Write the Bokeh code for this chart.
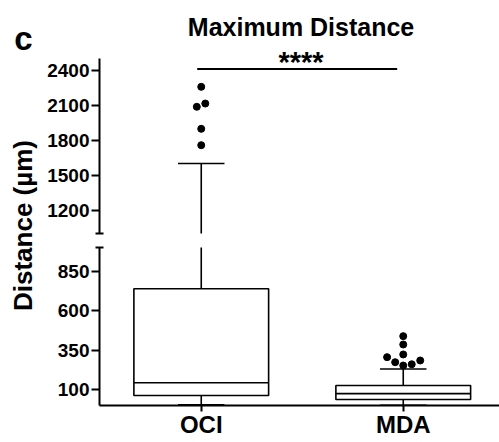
import math
from bokeh.plotting import figure
from bokeh.layouts import row, column
from bokeh.models import Range1d, FixedTicker, Label
from bokeh.embed import file_html
from bokeh.resources import INLINE

# ---------------- data ----------------
categories = ["OCI", "MDA"]
q1 = [63, 38]
median = [144, 75]
q3 = [739, 127]
whisker_low = [5, 2]
whisker_high = [1600, 231]
oci_outliers = [2257, 2114, 2086, 1897, 1757]
oci_outlier_dx = [0.0, 0.02, -0.022, 0.0, 0.0]
mda_outliers = [439, 386, 323, 306, 274, 253, 261, 285]
mda_outlier_dx = [0.0, 0.0, 0.0, -0.08, -0.04, 0.0, 0.042, 0.084]
lower_ticks = [100, 350, 600, 850]
upper_ticks = [1200, 1500, 1800, 2100, 2400]
lower_span = (0, 1000)
upper_span = (1000, 2500)
sig_text = "****"
sig_y = 2410

# ---------------- style ----------------
FONT = "Liberation Sans"
BOX_W = 0.667
CAP_W = 0.23
LW = 1.6
pos = [i + 1 for i in range(len(categories))]
X_START, X_END = 0.4963, 2.4765
UPPER_VIEW_TOP = 2997  # extra headroom in the upper panel for the title


def style_yaxis(p, ticks, span, minor):
    ax = p.yaxis[0]
    ax.ticker = FixedTicker(ticks=ticks, minor_ticks=minor)
    ax.bounds = span
    ax.axis_line_width = 2
    ax.axis_line_color = "black"
    ax.major_tick_line_width = 2
    ax.major_tick_out = 8
    ax.major_tick_in = 0
    ax.minor_tick_line_width = 2
    ax.minor_tick_in = 4
    ax.minor_tick_out = 4
    ax.major_label_text_font = FONT
    ax.major_label_text_font_style = "bold"
    ax.major_label_text_font_size = "19px"
    ax.major_label_text_color = "black"
    ax.major_label_standoff = 2


def draw_boxes(p):
    left = [x - BOX_W / 2 for x in pos]
    right = [x + BOX_W / 2 for x in pos]
    cl = [x - CAP_W / 2 for x in pos]
    cr = [x + CAP_W / 2 for x in pos]
    p.segment(x0=pos, x1=pos, y0=q3, y1=whisker_high, line_color="black", line_width=LW)
    p.segment(x0=pos, x1=pos, y0=q1, y1=whisker_low, line_color="black", line_width=LW)
    p.segment(x0=cl, x1=cr, y0=whisker_high, y1=whisker_high, line_color="black", line_width=LW)
    p.segment(x0=cl, x1=cr, y0=whisker_low, y1=whisker_low, line_color="black", line_width=LW)
    p.quad(left=left, right=right, bottom=q1, top=q3, fill_color="white",
           line_color="black", line_width=LW)
    p.segment(x0=left, x1=right, y0=median, y1=median, line_color="black", line_width=LW)
    ox = [pos[0] + d for d in oci_outlier_dx] + [pos[1] + d for d in mda_outlier_dx]
    oy = oci_outliers + mda_outliers
    p.scatter(x=ox, y=oy, size=7, color="black")


common = dict(toolbar_location=None, output_backend="svg", outline_line_color=None,
              background_fill_color="white", border_fill_color="white")

# ---- label column ----
lab = figure(width=44, height=442, x_range=Range1d(0, 44), y_range=Range1d(0, 442),
             min_border=0, x_axis_location=None, y_axis_location=None, **common)
lab.grid.visible = False
lab.add_layout(Label(x=22, y=217, text="Distance (µm)", angle=math.pi / 2,
                     text_align="center", text_baseline="middle", text_font=FONT,
                     text_font_style="bold", text_font_size="26px", text_color="black"))
lab.add_layout(Label(x=23, y=404, text="c", text_align="center", text_baseline="alphabetic",
                     text_font=FONT, text_font_style="bold", text_font_size="33px",
                     text_color="black"))

# ---- upper segment ----
up = figure(width=455, height=240, x_range=Range1d(X_START, X_END),
            y_range=Range1d(upper_span[0], UPPER_VIEW_TOP), min_border_left=54,
            min_border_right=0, min_border_top=0, min_border_bottom=7,
            x_axis_location=None, **common)
up.grid.visible = False
style_yaxis(up, upper_ticks, upper_span, [upper_span[0]])
draw_boxes(up)
up.segment(x0=[pos[0] - 0.02], x1=[pos[1] - 0.03], y0=[sig_y], y1=[sig_y],
           line_color="black", line_width=2)
up.add_layout(Label(x=1.494, y=2611, text=sig_text, text_align="center",
                    text_baseline="top", text_font=FONT, text_font_style="bold",
                    text_font_size="29px", text_color="black"))
up.add_layout(Label(x=1.494, y=2774, text="Maximum Distance", text_align="center",
                    text_baseline="alphabetic", text_font=FONT, text_font_style="bold",
                    text_font_size="25px", text_color="black"))

# ---- lower segment ----
lo = figure(width=455, height=202, x_range=Range1d(X_START, X_END),
            y_range=Range1d(*lower_span), min_border_left=54, min_border_right=0,
            min_border_top=7, min_border_bottom=37, **common)
lo.grid.visible = False
style_yaxis(lo, lower_ticks, lower_span, [lower_span[1]])
draw_boxes(lo)
xa = lo.xaxis[0]
xa.ticker = FixedTicker(ticks=pos)
xa.major_label_overrides = {p_: c for p_, c in zip(pos, categories)}
xa.axis_line_width = 2
xa.axis_line_color = "black"
xa.major_tick_line_width = 2
xa.major_tick_out = 6
xa.major_tick_in = 0
xa.minor_tick_line_color = None
xa.major_label_text_font = FONT
xa.major_label_text_font_style = "bold"
xa.major_label_text_font_size = "24px"
xa.major_label_text_color = "black"
xa.major_label_standoff = -1

layout = row(lab, column(up, lo))

open("out.html", "w").write(file_html(layout, INLINE))
